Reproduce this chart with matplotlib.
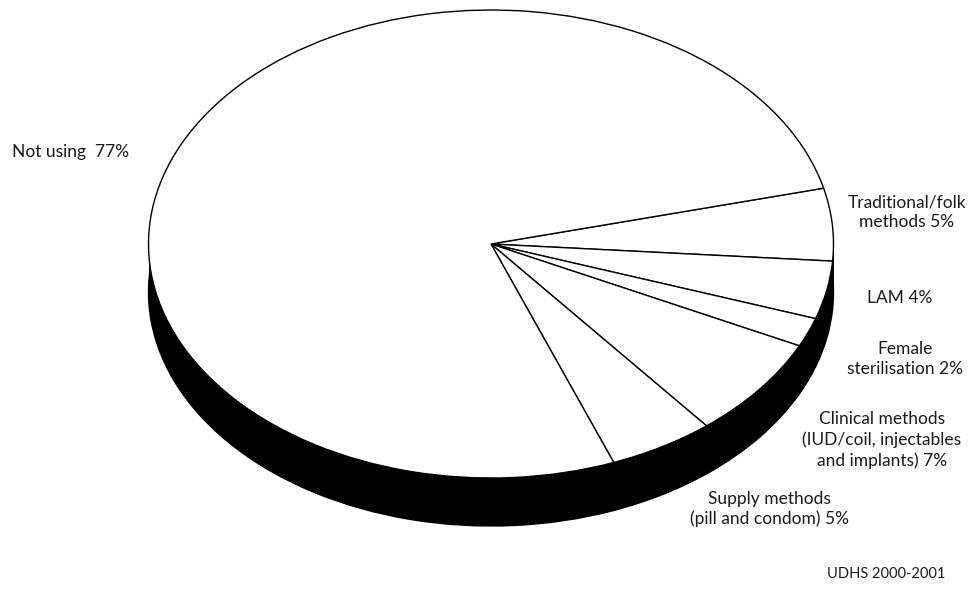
import numpy as np
import matplotlib.pyplot as plt

W, H = 971, 593

# contraceptive use, clockwise from the top right
labels = ["Traditional/folk\nmethods 5%", "LAM 4%", "Female\nsterilisation 2%",
          "Clinical methods\n(IUD/coil, injectables\nand implants) 7%",
          "Supply methods\n(pill and condom) 5%", "Not using  77%"]
shares = [5, 4, 2, 7, 5, 77]
source = "UDHS 2000-2001"

# text anchor points in pixels (x, y from top) and alignment
label_pos = [(907, 212, "center"), (900, 298, "center"), (905, 359, "center"),
             (882, 440, "center"), (769, 509, "center"), (12, 152, "left")]

plt.rcParams['font.family'] = ['Lato', 'DejaVu Sans']

fig = plt.figure(figsize=(W / 100, H / 100), dpi=100)

# axes mapped so the unit circle becomes the top ellipse of the pie
cx, cy = 491, 244      # ellipse centre, px
a, b = 342.5, 234      # semi-axes, px
depth = 48 / b         # thickness of the disc in data units
ybot = -1 - depth - 0.05
ax = fig.add_axes([(cx - a) / W, (H - cy + b * ybot) / H,
                   2 * a / W, (1 - ybot) * b / H])

start = 13.8
# underside of the disc
ax.pie(shares, startangle=start, counterclock=False, center=(0, -depth),
       radius=1, colors=["black"] * len(shares),
       wedgeprops=dict(edgecolor="black", linewidth=1.0))
ax.fill_between([-1, 1], -depth, 0, color="black", lw=0)
# top face
ax.pie(shares, startangle=start, counterclock=False, center=(0, 0),
       radius=1, colors=["white"] * len(shares),
       wedgeprops=dict(edgecolor="black", linewidth=1.0))
ax.set_xlim(-1, 1)
ax.set_ylim(ybot, 1)
ax.set_aspect("auto")
ax.axis("off")

for text, (x, y, ha) in zip(labels, label_pos):
    fig.text(x / W, 1 - y / H, text, ha=ha, va="center", fontsize=12.5,
             color="#1a1a1a", linespacing=1.3, multialignment="center")

fig.text(886 / W, 1 - 574 / H, source, ha="center", va="center",
         fontsize=10.5, color="#1a1a1a")

fig.savefig("out.png", dpi=100)
